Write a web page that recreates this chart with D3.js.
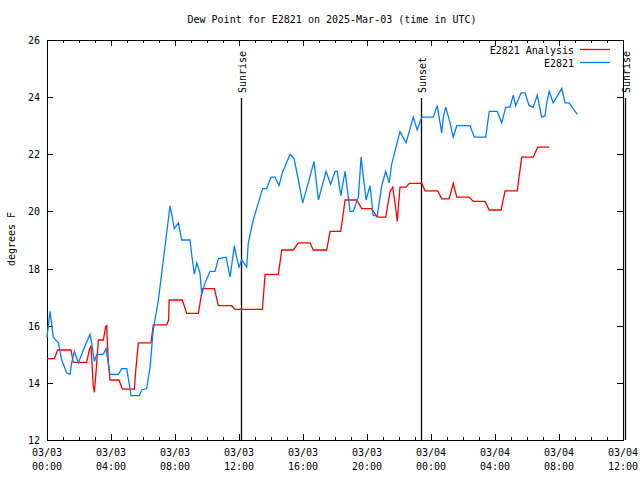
<!DOCTYPE html>
<html><head><meta charset="utf-8">
<script src="https://cdn.jsdelivr.net/npm/d3@7"></script>
<style>body{margin:0;background:#fff}svg{display:block}text{font-family:"DejaVu Sans Mono","Liberation Mono",monospace;font-size:10px;fill:#000}</style>
</head><body>
<script>
const titleText = "Dew Point for E2821 on 2025-Mar-03 (time in UTC)";
const yLabel = "degrees F";
const seriesNames = ["E2821 Analysis", "E2821"];
const seriesColors = ["#ff0000", "#0080ff"];
const yTicks = [12, 14, 16, 18, 20, 22, 24, 26];
// hours since 2025-03-03 00:00 UTC
const analysisHours = [0,0.46,0.67,1.5,1.64,2.48,2.64,2.75,2.89,2.96,3.06,3.21,3.52,3.67,3.73,3.83,3.94,4.5,4.71,5.46,5.54,5.71,6.5,6.64,7.48,7.6,7.63,8.46,8.73,9.46,9.71,10.46,10.71,11.54,11.75,13.46,13.63,14.46,14.67,15.39,15.71,16.44,16.64,17.48,17.69,18.36,18.63,19.36,19.67,20.29,20.64,21.17,21.44,21.61,21.81,21.89,22.06,22.44,22.64,23.42,23.63,24.42,24.67,25.13,25.39,25.61,26.39,26.64,27.38,27.64,28.38,28.63,29.39,29.67,30.39,30.67,31.39];
const analysisValues = [14.85,14.85,15.15,15.15,14.72,14.72,15.15,15.3,13.9,13.67,14.35,15.5,15.5,15.97,16.0,14.7,14.1,14.1,13.78,13.78,14.4,15.4,15.4,16.03,16.03,16.2,16.9,16.9,16.43,16.43,17.3,17.3,16.7,16.7,16.57,16.57,17.8,17.8,18.65,18.65,18.9,18.9,18.65,18.65,19.3,19.3,20.4,20.4,20.1,20.1,19.8,19.8,20.7,20.85,20.05,19.65,20.85,20.85,20.98,20.98,20.72,20.72,20.44,20.44,20.98,20.5,20.5,20.35,20.35,20.05,20.05,20.72,20.72,21.9,21.9,22.25,22.25];
const obsHours = [0,0.19,0.39,0.71,0.92,1.23,1.44,1.54,1.71,1.96,2.38,2.69,2.79,2.96,3.11,3.52,3.69,3.83,3.94,4.46,4.67,4.98,5.19,5.25,5.77,5.92,6.23,6.44,6.64,6.96,7.27,7.69,7.96,8.21,8.42,8.94,9.04,9.21,9.36,9.56,9.67,9.88,10.19,10.5,10.71,11.19,11.44,11.71,11.81,12.0,12.17,12.48,12.58,12.89,13.21,13.48,13.73,14.0,14.25,14.5,14.71,15.19,15.44,15.71,15.98,16.33,16.69,16.96,17.44,17.73,18.0,18.14,18.36,18.63,18.94,19.14,19.46,19.63,19.94,20.19,20.39,20.64,20.92,21.17,21.39,21.54,22.06,22.44,22.89,23.14,23.42,24.14,24.39,24.67,24.77,24.92,25.19,25.39,25.61,26.44,26.71,27.42,27.64,28.14,28.42,28.67,28.94,29.14,29.29,29.63,29.88,30.13,30.39,30.64,30.92,31.13,31.23,31.39,31.64,32.17,32.38,32.63,33.14];
const obsValues = [15.6,16.5,15.6,15.4,14.8,14.35,14.3,14.7,15.1,14.7,15.3,15.7,15.4,14.75,15.0,15.0,15.2,14.7,14.3,14.3,14.5,14.5,13.8,13.55,13.55,13.75,13.8,14.55,15.85,16.9,18.3,20.2,19.4,19.6,19.0,19.0,18.5,17.8,18.2,17.85,17.1,17.5,17.9,17.9,18.35,18.4,17.7,18.8,18.5,18.05,18.3,18.05,18.9,19.7,20.3,20.8,20.8,21.2,21.2,20.9,21.35,22.0,21.85,21.1,20.3,21.0,21.75,20.4,21.4,20.95,21.4,21.4,20.55,21.4,20.0,20.0,20.5,21.9,20.4,20.9,19.85,19.85,20.9,21.4,21.0,21.65,22.8,22.4,23.3,22.85,23.3,23.3,23.7,22.75,23.3,23.65,23.1,22.6,23.0,23.0,22.6,22.6,23.5,23.5,23.1,23.65,23.65,24.07,23.7,24.15,24.15,23.7,23.65,24.07,23.3,23.35,23.8,24.2,23.8,24.3,23.8,23.8,23.4];
const sunEvents = [{h: 12.12, label: "Sunrise"}, {h: 23.37, label: "Sunset"}, {h: 36.12, label: "Sunrise"}];

const W = 640, H = 480;
const m = {l: 47, r: 623, t: 40, b: 440};
const t0 = Date.UTC(2025, 2, 3, 0, 0);
const toDate = h => new Date(t0 + h * 3600000);
const x = d3.scaleUtc().domain([toDate(0), toDate(36)]).range([m.l, m.r]);
const y = d3.scaleLinear().domain([12, 26]).range([m.b, m.t]);

const svg = d3.select("body").append("svg").attr("width", W).attr("height", H);

svg.append("text").attr("x", 332).attr("y", 23).attr("text-anchor", "middle").text(titleText);
svg.append("text").attr("transform", "translate(15,239) rotate(-90)").attr("text-anchor", "middle").text(yLabel);

// frame
svg.append("rect").attr("x", m.l + 0.5).attr("y", m.t + 0.5).attr("width", m.r - m.l).attr("height", m.b - m.t)
  .attr("fill", "none").attr("stroke", "#000").attr("stroke-width", 1);

// x ticks
const hourTicks = x.ticks(d3.utcHour.every(1));
const g = svg.append("g").attr("stroke", "#000").attr("stroke-width", 1);
hourTicks.forEach(d => {
  const major = d.getUTCHours() % 4 === 0;
  const len = major ? 6 : 3;
  const xx = Math.round(x(d)) + 0.5;
  g.append("line").attr("x1", xx).attr("x2", xx).attr("y1", m.b).attr("y2", m.b - len);
  g.append("line").attr("x1", xx).attr("x2", xx).attr("y1", m.t).attr("y2", m.t + len);
});
const majorTicks = x.ticks(d3.utcHour.every(4));
majorTicks.forEach(d => {
  const xx = x(d);
  svg.append("text").attr("x", xx).attr("y", 456).attr("text-anchor", "middle").text(d3.utcFormat("%m/%d")(d));
  svg.append("text").attr("x", xx).attr("y", 470).attr("text-anchor", "middle").text(d3.utcFormat("%H:%M")(d));
});
// y ticks
yTicks.forEach(v => {
  const yy = Math.round(y(v)) + 0.5;
  g.append("line").attr("x1", m.l).attr("x2", m.l + 6).attr("y1", yy).attr("y2", yy);
  g.append("line").attr("x1", m.r).attr("x2", m.r - 6).attr("y1", yy).attr("y2", yy);
  svg.append("text").attr("x", 40).attr("y", y(v) + 4).attr("text-anchor", "end").text(v);
});

// sun events
sunEvents.forEach(s => {
  const xx = Math.round(x(toDate(s.h))) + 0.5;
  svg.append("line").attr("x1", xx).attr("x2", xx).attr("y1", 98).attr("y2", m.b).attr("stroke", "#000").attr("stroke-width", 1.3);
  svg.append("text").attr("transform", `translate(${xx + 4},93) rotate(-90)`).attr("text-anchor", "start").text(s.label);
});

// lines
const line = d3.line().x(d => x(toDate(d[0]))).y(d => y(d[1]));
const series = [
  d3.zip(analysisHours, analysisValues),
  d3.zip(obsHours, obsValues)
];
series.forEach((s, i) => {
  svg.append("path").datum(s).attr("d", line).attr("fill", "none")
    .attr("stroke", seriesColors[i]).attr("stroke-width", 1.3);
});

// legend
seriesNames.forEach((n, i) => {
  const ly = 49.5 + i * 13;
  svg.append("text").attr("x", 574).attr("y", ly + 4).attr("text-anchor", "end").text(n);
  svg.append("line").attr("x1", 580).attr("x2", 610).attr("y1", ly).attr("y2", ly)
    .attr("stroke", seriesColors[i]).attr("stroke-width", 1.3);
});
</script>
</body></html>
